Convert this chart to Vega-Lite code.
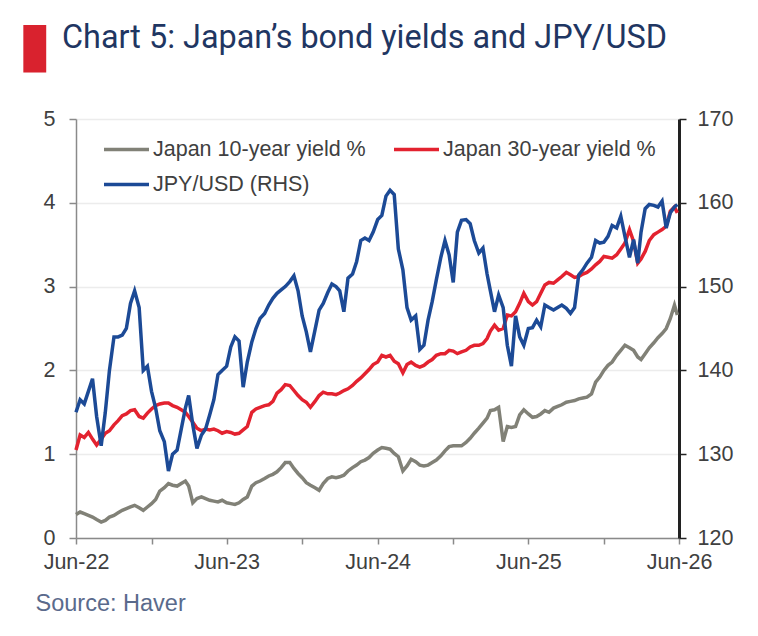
{
"$schema": "https://vega.github.io/schema/vega-lite/v6.json",
"autosize": "none",
"width": 603,
"height": 419,
"padding": {"left": 76, "top": 119, "right": 79, "bottom": 98},
"background": "white",
"config": {"view": {"stroke": null}, "font": "Liberation Sans", "axis": {"labelFont": "Liberation Sans", "titleFont": "Liberation Sans"}},
"title": {"text": "Chart 5: Japan’s bond yields and JPY/USD", "anchor": "start", "frame": "group", "font": "Roboto", "fontSize": 32.4, "fontWeight": 400, "color": "#1f3662", "dx": -14, "offset": -40},
"data": {"values": [
{"d":"2022-06-01","fx":135.0,"y30":1.05,"y10":0.28},
{"d":"2022-06-11","fx":136.5,"y30":1.23,"y10":0.31},
{"d":"2022-06-21","fx":136.0,"y30":1.20,"y10":0.29},
{"d":"2022-07-01","fx":137.5,"y30":1.26,"y10":0.27},
{"d":"2022-07-11","fx":139.0,"y30":1.18,"y10":0.25},
{"d":"2022-07-21","fx":134.5,"y30":1.11,"y10":0.22},
{"d":"2022-08-01","fx":131.0,"y30":1.18,"y10":0.19},
{"d":"2022-08-11","fx":135.0,"y30":1.25,"y10":0.21},
{"d":"2022-08-21","fx":140.0,"y30":1.28,"y10":0.25},
{"d":"2022-09-01","fx":144.0,"y30":1.35,"y10":0.27},
{"d":"2022-09-11","fx":144.0,"y30":1.40,"y10":0.30},
{"d":"2022-09-21","fx":144.2,"y30":1.46,"y10":0.33},
{"d":"2022-10-01","fx":145.0,"y30":1.48,"y10":0.35},
{"d":"2022-10-11","fx":148.0,"y30":1.52,"y10":0.37},
{"d":"2022-10-21","fx":149.5,"y30":1.53,"y10":0.39},
{"d":"2022-11-01","fx":147.5,"y30":1.45,"y10":0.36},
{"d":"2022-11-11","fx":140.0,"y30":1.43,"y10":0.33},
{"d":"2022-11-21","fx":140.5,"y30":1.49,"y10":0.37},
{"d":"2022-12-01","fx":137.5,"y30":1.54,"y10":0.41},
{"d":"2022-12-11","fx":135.5,"y30":1.58,"y10":0.46},
{"d":"2022-12-21","fx":132.8,"y30":1.60,"y10":0.56},
{"d":"2023-01-01","fx":131.5,"y30":1.61,"y10":0.60},
{"d":"2023-01-11","fx":128.0,"y30":1.61,"y10":0.65},
{"d":"2023-01-21","fx":130.0,"y30":1.58,"y10":0.63},
{"d":"2023-02-01","fx":130.5,"y30":1.56,"y10":0.62},
{"d":"2023-02-11","fx":133.0,"y30":1.53,"y10":0.65},
{"d":"2023-02-21","fx":135.5,"y30":1.50,"y10":0.68},
{"d":"2023-03-01","fx":137.0,"y30":1.45,"y10":0.62},
{"d":"2023-03-11","fx":133.5,"y30":1.38,"y10":0.42},
{"d":"2023-03-21","fx":130.7,"y30":1.31,"y10":0.47},
{"d":"2023-04-01","fx":132.3,"y30":1.28,"y10":0.49},
{"d":"2023-04-11","fx":133.0,"y30":1.30,"y10":0.47},
{"d":"2023-04-21","fx":134.7,"y30":1.29,"y10":0.45},
{"d":"2023-05-01","fx":136.5,"y30":1.30,"y10":0.44},
{"d":"2023-05-11","fx":139.5,"y30":1.28,"y10":0.43},
{"d":"2023-05-21","fx":140.0,"y30":1.25,"y10":0.45},
{"d":"2023-06-01","fx":140.5,"y30":1.27,"y10":0.42},
{"d":"2023-06-11","fx":142.8,"y30":1.26,"y10":0.41},
{"d":"2023-06-21","fx":144.0,"y30":1.24,"y10":0.40},
{"d":"2023-07-01","fx":143.5,"y30":1.25,"y10":0.42},
{"d":"2023-07-11","fx":138.0,"y30":1.29,"y10":0.46},
{"d":"2023-07-21","fx":141.0,"y30":1.33,"y10":0.49},
{"d":"2023-08-01","fx":143.4,"y30":1.50,"y10":0.62},
{"d":"2023-08-11","fx":145.0,"y30":1.54,"y10":0.66},
{"d":"2023-08-21","fx":146.2,"y30":1.56,"y10":0.68},
{"d":"2023-09-01","fx":146.8,"y30":1.58,"y10":0.71},
{"d":"2023-09-11","fx":147.8,"y30":1.59,"y10":0.74},
{"d":"2023-09-21","fx":148.6,"y30":1.63,"y10":0.76},
{"d":"2023-10-01","fx":149.2,"y30":1.73,"y10":0.79},
{"d":"2023-10-11","fx":149.6,"y30":1.77,"y10":0.84},
{"d":"2023-10-21","fx":150.0,"y30":1.83,"y10":0.90},
{"d":"2023-11-01","fx":150.6,"y30":1.82,"y10":0.90},
{"d":"2023-11-11","fx":151.3,"y30":1.76,"y10":0.83},
{"d":"2023-11-21","fx":149.5,"y30":1.70,"y10":0.77},
{"d":"2023-12-01","fx":146.5,"y30":1.65,"y10":0.72},
{"d":"2023-12-11","fx":144.6,"y30":1.62,"y10":0.66},
{"d":"2023-12-21","fx":142.2,"y30":1.56,"y10":0.63},
{"d":"2024-01-01","fx":144.8,"y30":1.63,"y10":0.60},
{"d":"2024-01-11","fx":147.2,"y30":1.70,"y10":0.57},
{"d":"2024-01-21","fx":148.0,"y30":1.74,"y10":0.65},
{"d":"2024-02-01","fx":149.3,"y30":1.72,"y10":0.71},
{"d":"2024-02-11","fx":150.3,"y30":1.72,"y10":0.73},
{"d":"2024-02-21","fx":150.0,"y30":1.71,"y10":0.72},
{"d":"2024-03-01","fx":149.5,"y30":1.73,"y10":0.73},
{"d":"2024-03-11","fx":147.0,"y30":1.76,"y10":0.75},
{"d":"2024-03-21","fx":151.0,"y30":1.78,"y10":0.80},
{"d":"2024-04-01","fx":151.5,"y30":1.82,"y10":0.84},
{"d":"2024-04-11","fx":153.0,"y30":1.87,"y10":0.87},
{"d":"2024-04-21","fx":155.5,"y30":1.91,"y10":0.91},
{"d":"2024-05-01","fx":155.8,"y30":1.96,"y10":0.93},
{"d":"2024-05-11","fx":155.5,"y30":2.01,"y10":0.96},
{"d":"2024-05-21","fx":156.5,"y30":2.07,"y10":1.01},
{"d":"2024-06-01","fx":158.0,"y30":2.10,"y10":1.05},
{"d":"2024-06-11","fx":158.5,"y30":2.18,"y10":1.08},
{"d":"2024-06-21","fx":160.8,"y30":2.16,"y10":1.07},
{"d":"2024-07-01","fx":161.5,"y30":2.18,"y10":1.06},
{"d":"2024-07-11","fx":161.0,"y30":2.11,"y10":1.01},
{"d":"2024-07-21","fx":154.5,"y30":2.08,"y10":0.97},
{"d":"2024-08-01","fx":152.0,"y30":1.97,"y10":0.80},
{"d":"2024-08-11","fx":147.5,"y30":2.07,"y10":0.86},
{"d":"2024-08-21","fx":146.0,"y30":2.10,"y10":0.94},
{"d":"2024-09-01","fx":146.5,"y30":2.06,"y10":0.91},
{"d":"2024-09-11","fx":142.5,"y30":2.04,"y10":0.87},
{"d":"2024-09-21","fx":143.0,"y30":2.06,"y10":0.86},
{"d":"2024-10-01","fx":146.0,"y30":2.10,"y10":0.87},
{"d":"2024-10-11","fx":148.2,"y30":2.13,"y10":0.90},
{"d":"2024-10-21","fx":150.8,"y30":2.18,"y10":0.93},
{"d":"2024-11-01","fx":153.5,"y30":2.20,"y10":0.98},
{"d":"2024-11-11","fx":155.5,"y30":2.20,"y10":1.04},
{"d":"2024-11-21","fx":153.8,"y30":2.24,"y10":1.09},
{"d":"2024-12-01","fx":150.5,"y30":2.23,"y10":1.10},
{"d":"2024-12-11","fx":156.5,"y30":2.20,"y10":1.10},
{"d":"2024-12-21","fx":157.9,"y30":2.22,"y10":1.10},
{"d":"2025-01-01","fx":158.0,"y30":2.24,"y10":1.14},
{"d":"2025-01-11","fx":157.5,"y30":2.28,"y10":1.19},
{"d":"2025-01-21","fx":155.5,"y30":2.30,"y10":1.25},
{"d":"2025-02-01","fx":154.0,"y30":2.30,"y10":1.31},
{"d":"2025-02-11","fx":154.6,"y30":2.32,"y10":1.37},
{"d":"2025-02-21","fx":151.5,"y30":2.38,"y10":1.43},
{"d":"2025-03-01","fx":149.5,"y30":2.47,"y10":1.52},
{"d":"2025-03-11","fx":147.0,"y30":2.54,"y10":1.53},
{"d":"2025-03-21","fx":149.0,"y30":2.48,"y10":1.56},
{"d":"2025-04-01","fx":147.5,"y30":2.50,"y10":1.15},
{"d":"2025-04-11","fx":143.0,"y30":2.66,"y10":1.33},
{"d":"2025-04-21","fx":140.5,"y30":2.65,"y10":1.32},
{"d":"2025-05-01","fx":146.5,"y30":2.70,"y10":1.33},
{"d":"2025-05-11","fx":144.0,"y30":2.80,"y10":1.47},
{"d":"2025-05-21","fx":143.0,"y30":2.92,"y10":1.53},
{"d":"2025-06-01","fx":145.0,"y30":2.82,"y10":1.48},
{"d":"2025-06-11","fx":145.1,"y30":2.78,"y10":1.44},
{"d":"2025-06-21","fx":146.0,"y30":2.82,"y10":1.45},
{"d":"2025-07-01","fx":145.2,"y30":2.92,"y10":1.48},
{"d":"2025-07-11","fx":147.8,"y30":3.02,"y10":1.52},
{"d":"2025-07-21","fx":147.5,"y30":3.05,"y10":1.50},
{"d":"2025-08-01","fx":147.2,"y30":3.04,"y10":1.55},
{"d":"2025-08-11","fx":147.5,"y30":3.08,"y10":1.57},
{"d":"2025-08-21","fx":147.8,"y30":3.12,"y10":1.59},
{"d":"2025-09-01","fx":147.4,"y30":3.17,"y10":1.62},
{"d":"2025-09-11","fx":146.8,"y30":3.14,"y10":1.63},
{"d":"2025-09-21","fx":147.5,"y30":3.11,"y10":1.64},
{"d":"2025-10-01","fx":151.4,"y30":3.12,"y10":1.66},
{"d":"2025-10-11","fx":152.0,"y30":3.15,"y10":1.67},
{"d":"2025-10-21","fx":152.8,"y30":3.17,"y10":1.68},
{"d":"2025-11-01","fx":153.5,"y30":3.21,"y10":1.72},
{"d":"2025-11-11","fx":155.5,"y30":3.26,"y10":1.86},
{"d":"2025-11-21","fx":155.2,"y30":3.30,"y10":1.92},
{"d":"2025-12-01","fx":155.3,"y30":3.36,"y10":2.00},
{"d":"2025-12-11","fx":156.0,"y30":3.35,"y10":2.06},
{"d":"2025-12-21","fx":157.3,"y30":3.34,"y10":2.10},
{"d":"2026-01-01","fx":157.0,"y30":3.38,"y10":2.18},
{"d":"2026-01-11","fx":158.4,"y30":3.45,"y10":2.24},
{"d":"2026-01-21","fx":156.0,"y30":3.52,"y10":2.30},
{"d":"2026-02-01","fx":153.5,"y30":3.68,"y10":2.27},
{"d":"2026-02-11","fx":155.6,"y30":3.54,"y10":2.24},
{"d":"2026-02-21","fx":152.8,"y30":3.28,"y10":2.16},
{"d":"2026-03-01","fx":156.5,"y30":3.33,"y10":2.13},
{"d":"2026-03-11","fx":159.3,"y30":3.42,"y10":2.20},
{"d":"2026-03-21","fx":159.8,"y30":3.55,"y10":2.27},
{"d":"2026-04-01","fx":159.7,"y30":3.62,"y10":2.33},
{"d":"2026-04-11","fx":159.5,"y30":3.65,"y10":2.39},
{"d":"2026-04-21","fx":160.2,"y30":3.68,"y10":2.44},
{"d":"2026-05-01","fx":157.0,"y30":3.72,"y10":2.50},
{"d":"2026-05-11","fx":158.8,"y30":3.90,"y10":2.62},
{"d":"2026-05-21","fx":159.5,"y30":3.95,"y10":2.78},
{"d":"2026-05-28","fx":159.8,"y30":3.88,"y10":2.66}
]},
"encoding": {
  "x": {"field": "d", "type": "temporal",
    "scale": {"domain": [{"year": 2022, "month": 6, "date": 1, "utc": true}, {"year": 2026, "month": 6, "date": 1, "utc": true}]},
    "axis": {
      "values": [
        {"year": 2022, "month": 6, "date": 1, "utc": true}, {"year": 2022, "month": 12, "date": 1, "utc": true},
        {"year": 2023, "month": 6, "date": 1, "utc": true}, {"year": 2023, "month": 12, "date": 1, "utc": true},
        {"year": 2024, "month": 6, "date": 1, "utc": true}, {"year": 2024, "month": 12, "date": 1, "utc": true},
        {"year": 2025, "month": 6, "date": 1, "utc": true}, {"year": 2025, "month": 12, "date": 1, "utc": true},
        {"year": 2026, "month": 6, "date": 1, "utc": true}],
      "labelExpr": "utcmonth(datum.value) == 5 ? utcFormat(datum.value, '%b-%y') : ''",
      "labelFlush": false, "labelOverlap": false, "grid": false,
      "domainColor": "#8a8a8a", "domainWidth": 1.5, "tickColor": "#8a8a8a", "tickWidth": 1.5, "tickSize": 6,
      "labelFontSize": 21.5, "labelColor": "#404040", "labelPadding": 7,
      "title": "Source: Haver", "titleX": -41, "titleY": 72.5, "titleAlign": "left", "titleAnchor": "start",
      "titleBaseline": "alphabetic", "titleFontSize": 23.5, "titleFontWeight": "normal", "titleColor": "#5a6a8c"
    }
  }
},
"layer": [
  {"layer": [
    {"mark": {"type": "line", "strokeWidth": 3.5},
     "encoding": {
       "y": {"field": "y10", "type": "quantitative", "scale": {"domain": [0, 5]},
         "axis": {"values": [0, 1, 2, 3, 4, 5], "grid": true, "gridColor": "#ececec", "gridWidth": 1.5,
           "domainColor": "#8a8a8a", "domainWidth": 1.5, "tickColor": "#8a8a8a", "tickWidth": 1.5, "tickSize": 7,
           "labelFontSize": 21.5, "labelColor": "#404040", "labelPadding": 14,
           "title": "▮", "titleAngle": 0, "titleX": -42, "titleY": -74, "titleAlign": "center", "titleBaseline": "middle",
           "titleFontSize": 62, "titleColor": "#d9222e", "titleFont": "DejaVu Sans", "titleFontWeight": "normal"}},
       "color": {"datum": "Japan 10-year yield %",
         "scale": {"domain": ["Japan 10-year yield %", "Japan 30-year yield %", "JPY/USD (RHS)"], "range": ["#818177", "#e3222f", "#1c4a96"]},
         "legend": {"orient": "none", "legendX": 26, "legendY": 6, "columns": 2, "direction": "horizontal", "title": null,
           "symbolType": "stroke", "symbolSize": 2025, "symbolStrokeWidth": 3.5,
           "labelFontSize": 21.5, "labelColor": "#404040", "labelFont": "Liberation Sans", "labelLimit": 400,
           "columnPadding": 21, "rowPadding": -3, "labelOffset": 2}}
     }},
    {"mark": {"type": "line", "strokeWidth": 3.5},
     "encoding": {
       "y": {"field": "y30", "type": "quantitative", "scale": {"domain": [0, 5]},
         "axis": {"values": [0, 1, 2, 3, 4, 5], "grid": true, "gridColor": "#ececec", "gridWidth": 1.5,
           "domainColor": "#8a8a8a", "domainWidth": 1.5, "tickColor": "#8a8a8a", "tickWidth": 1.5, "tickSize": 7,
           "labelFontSize": 21.5, "labelColor": "#404040", "labelPadding": 14,
           "title": "▮", "titleAngle": 0, "titleX": -42, "titleY": -74, "titleAlign": "center", "titleBaseline": "middle",
           "titleFontSize": 62, "titleColor": "#d9222e", "titleFont": "DejaVu Sans", "titleFontWeight": "normal"}},
       "color": {"datum": "Japan 30-year yield %"}
     }}
  ]},
  {"mark": {"type": "line", "strokeWidth": 3.5},
   "encoding": {
     "y": {"field": "fx", "type": "quantitative", "scale": {"domain": [120, 170]},
       "axis": {"orient": "right", "values": [120, 130, 140, 150, 160, 170], "grid": false,
         "domainColor": "#222222", "domainWidth": 3, "tickColor": "#222222", "tickWidth": 1.5, "tickSize": 7,
         "labelFontSize": 21.5, "labelColor": "#404040", "labelPadding": 11, "title": null}},
     "color": {"datum": "JPY/USD (RHS)"}
   }}
],
"resolve": {"scale": {"y": "independent"}}
}
